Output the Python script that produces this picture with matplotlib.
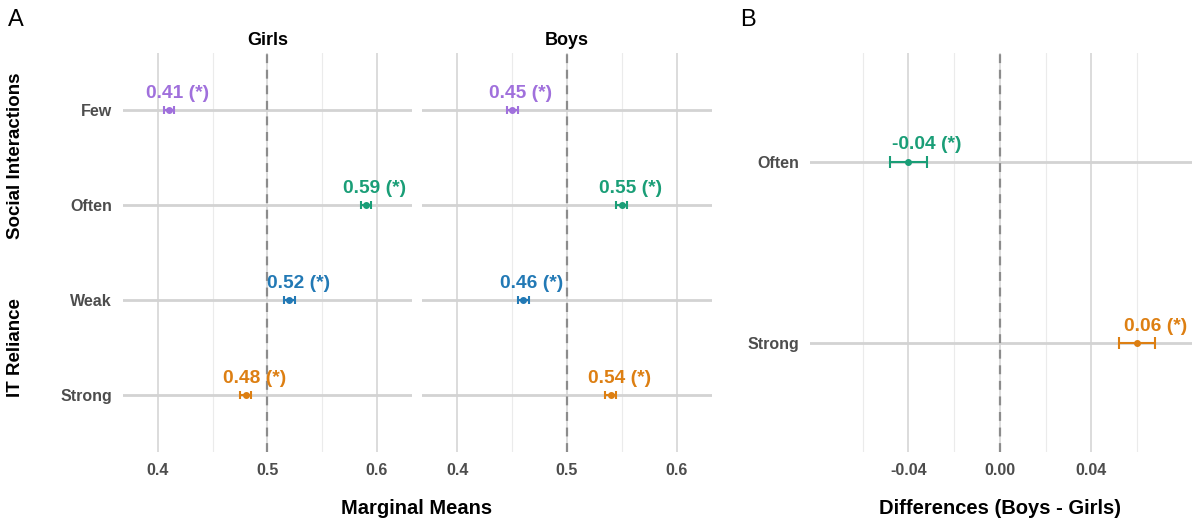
import matplotlib.pyplot as plt
import numpy as np

plt.rcParams['font.family'] = ['Liberation Sans', 'DejaVu Sans']

# marginal means by gender
levels = ['Few', 'Often', 'Weak', 'Strong']
colors = ['#A070DC', '#1A9E77', '#2279B5', '#DD7F12']
girls = [0.41, 0.59, 0.52, 0.48]
girls_err = [0.005, 0.005, 0.005, 0.005]
boys = [0.45, 0.55, 0.46, 0.54]
boys_err = [0.005, 0.005, 0.005, 0.005]
mm_ticks = [0.4, 0.5, 0.6]

# differences boys - girls
diff_levels = ['Often', 'Strong']
diff_colors = ['#1A9E77', '#DD7F12']
diffs = [-0.04, 0.06]
diff_err = [0.008, 0.008]
diff_ticks = [-0.04, 0.00, 0.04]

label_nudge = 0.008
grey_txt = '#4D4D4D'

fig = plt.figure(figsize=(11.96, 5.22), dpi=100)
H = 522.0
W = 1196.0


def px_axes(x0, x1, y0, y1):
    return fig.add_axes([x0 / W, 1 - y1 / H, (x1 - x0) / W, (y1 - y0) / H])


def style(ax, xlim, major, minor, ylim):
    ax.set_xlim(*xlim)
    ax.set_ylim(*ylim)
    for s in ax.spines.values():
        s.set_visible(False)
    for v in minor:
        ax.axvline(v, color='#EBEBEB', lw=0.8, zorder=0)
    for v in major:
        ax.axvline(v, color='#D9D9D9', lw=1.3, zorder=0)
    ax.tick_params(length=0, labelsize=11.5, labelcolor=grey_txt, pad=8)
    for t in ax.get_xticklabels() + ax.get_yticklabels():
        t.set_fontweight('bold')


def mm_panel(ax, vals, errs, title, show_y):
    y = np.arange(len(levels))
    for yi in y:
        ax.axhline(yi, color='#D3D3D3', lw=2, zorder=1)
    ax.axvline(0.5, color='#8C8C8C', lw=1.6, ls=(0, (4, 3)), zorder=2)
    for i, (v, e, c) in enumerate(zip(vals, errs, colors)):
        ax.errorbar(v, i, xerr=e, fmt='o', color=c, ms=4, capsize=3,
                    elinewidth=1.5, capthick=1.5, zorder=3)
        ax.annotate(f'{v:.2f} (*)', (v + label_nudge, i), xytext=(0, 6),
                    textcoords='offset points', ha='center', va='bottom',
                    color=c, fontsize=13.8, fontweight='bold', zorder=4)
    ax.set_xticks(mm_ticks)
    ax.set_yticks(y)
    ax.set_yticklabels(levels if show_y else [])
    style(ax, (0.368, 0.632), mm_ticks, [0.45, 0.55], (len(levels) - 0.4, -0.6))
    ax.set_title(title, fontsize=13, fontweight='bold', pad=6)


ax_g = px_axes(123, 412, 53, 452)
ax_b = px_axes(422, 712, 53, 452)
mm_panel(ax_g, girls, girls_err, 'Girls', True)
mm_panel(ax_b, boys, boys_err, 'Boys', False)

ax_d = px_axes(810, 1192, 53, 452)
yd = np.arange(len(diff_levels))
for yi in yd:
    ax_d.axhline(yi, color='#D3D3D3', lw=2, zorder=1)
ax_d.axvline(0, color='#8C8C8C', lw=1.6, ls=(0, (4, 3)), zorder=2)
for i, (v, e, c) in enumerate(zip(diffs, diff_err, diff_colors)):
    ax_d.errorbar(v, i, xerr=e, fmt='o', color=c, ms=4, capsize=4,
                  elinewidth=1.5, capthick=1.5, zorder=3)
    ax_d.annotate(f'{v:.2f} (*)', (v + label_nudge, i), xytext=(0, 6),
                  textcoords='offset points', ha='center', va='bottom',
                  color=c, fontsize=13.8, fontweight='bold', zorder=4)
ax_d.set_xticks(diff_ticks)
ax_d.set_xticklabels([f'{t:.2f}' for t in diff_ticks])
ax_d.set_yticks(yd)
ax_d.set_yticklabels(diff_levels)
style(ax_d, (-0.083, 0.084), diff_ticks, [-0.06, -0.02, 0.02, 0.06],
      (len(diff_levels) - 0.4, -0.6))

# titles and group labels
fig.text(417 / W, 1 - 508 / H, 'Marginal Means', ha='center', va='center',
         fontsize=14.5, fontweight='bold')
fig.text(1000 / W, 1 - 508 / H, 'Differences (Boys - Girls)', ha='center',
         va='center', fontsize=14.5, fontweight='bold')
fig.text(16 / W, 1 - 156 / H, 'Social Interactions', rotation=90, ha='center',
         va='center', fontsize=13.5, fontweight='bold')
fig.text(16 / W, 1 - 348 / H, 'IT Reliance', rotation=90, ha='center',
         va='center', fontsize=13.5, fontweight='bold')
fig.text(8 / W, 1 - 20 / H, 'A', ha='left', va='center', fontsize=17)
fig.text(740 / W, 1 - 20 / H, 'B', ha='left', va='center', fontsize=17)

fig.savefig('out.png', dpi=100)
